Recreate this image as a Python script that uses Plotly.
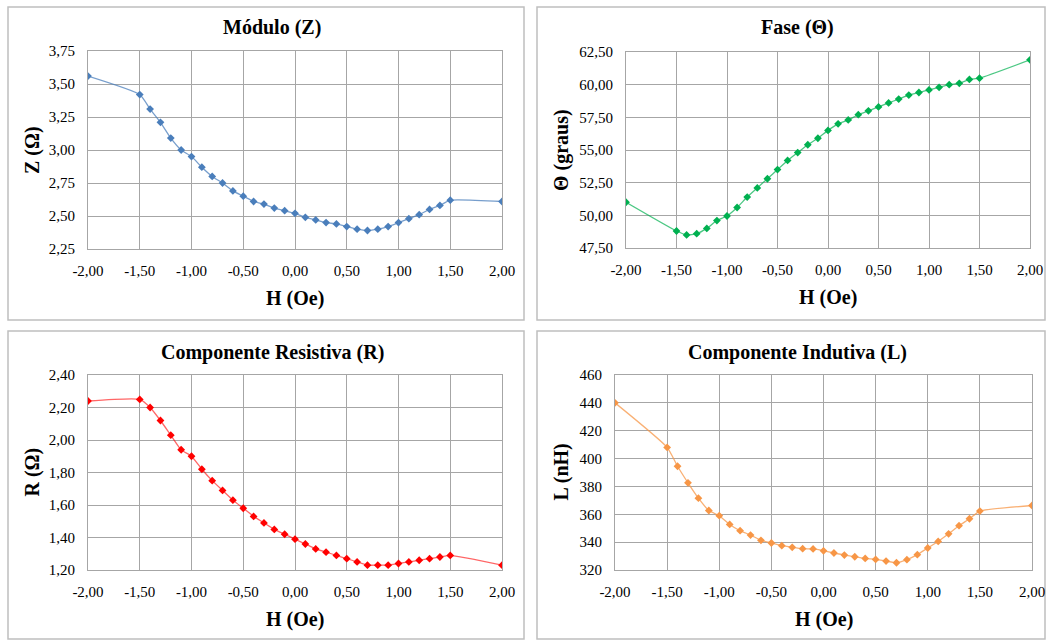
import plotly.graph_objects as go

# Campo magnético aplicado H (Oe)
H = [-2.0, -1.5, -1.4, -1.3, -1.2, -1.1, -1.0, -0.9, -0.8, -0.7, -0.6, -0.5,
     -0.4, -0.3, -0.2, -0.1, 0.0, 0.1, 0.2, 0.3, 0.4, 0.5, 0.6, 0.7, 0.8,
     0.9, 1.0, 1.1, 1.2, 1.3, 1.4, 1.5, 2.0]

# Módulo da impedância Z (Ω)
Z = [3.56, 3.42, 3.31, 3.21, 3.09, 3.00, 2.95, 2.87, 2.80, 2.75, 2.69, 2.65,
     2.61, 2.59, 2.56, 2.54, 2.52, 2.49, 2.47, 2.45, 2.44, 2.42, 2.40, 2.39,
     2.40, 2.42, 2.45, 2.48, 2.51, 2.55, 2.58, 2.62, 2.61]

# Fase Θ (graus)
THETA = [51.0, 48.8, 48.5, 48.6, 49.0, 49.6, 49.95, 50.6, 51.4, 52.1, 52.8,
         53.5, 54.2, 54.8, 55.4, 55.9, 56.5, 57.0, 57.3, 57.7, 58.0, 58.3,
         58.6, 58.9, 59.2, 59.4, 59.6, 59.8, 60.0, 60.1, 60.4, 60.5, 61.9]

# Componente resistiva R (Ω)
R = [2.24, 2.25, 2.20, 2.12, 2.03, 1.94, 1.90, 1.82, 1.75, 1.69, 1.63, 1.58,
     1.53, 1.49, 1.45, 1.42, 1.39, 1.36, 1.33, 1.31, 1.29, 1.27, 1.25, 1.23,
     1.23, 1.23, 1.24, 1.25, 1.26, 1.27, 1.28, 1.29, 1.23]

# Componente indutiva L (nH)
L = [440.0, 408.0, 394.5, 382.6, 371.6, 362.7, 359.0, 352.7, 348.2, 345.1,
     341.3, 339.4, 337.5, 336.3, 335.3, 335.1, 333.8, 332.2, 330.7, 329.5,
     328.3, 327.6, 326.4, 325.2, 327.4, 331.0, 335.8, 340.5, 346.0, 351.8,
     356.8, 362.3, 366.3]

# Marcas dos eixos
H_TICKS = [-2.0, -1.5, -1.0, -0.5, 0.0, 0.5, 1.0, 1.5, 2.0]
H_LABELS = ["-2,00", "-1,50", "-1,00", "-0,50", "0,00", "0,50", "1,00", "1,50", "2,00"]
Z_TICKS = [2.25, 2.50, 2.75, 3.00, 3.25, 3.50, 3.75]
Z_LABELS = ["2,25", "2,50", "2,75", "3,00", "3,25", "3,50", "3,75"]
THETA_TICKS = [47.5, 50.0, 52.5, 55.0, 57.5, 60.0, 62.5]
THETA_LABELS = ["47,50", "50,00", "52,50", "55,00", "57,50", "60,00", "62,50"]
R_TICKS = [1.2, 1.4, 1.6, 1.8, 2.0, 2.2, 2.4]
R_LABELS = ["1,20", "1,40", "1,60", "1,80", "2,00", "2,20", "2,40"]
L_TICKS = [320, 340, 360, 380, 400, 420, 440, 460]
L_LABELS = ["320", "340", "360", "380", "400", "420", "440", "460"]

TITLES = ["Módulo (Z)", "Fase (Θ)", "Componente Resistiva (R)", "Componente Indutiva (L)"]
YTITLES = ["Z (Ω)", "Θ (graus)", "R (Ω)", "L (nH)"]
XTITLE = "H (Oe)"

W, HGT = 1046, 640
FONT = "Liberation Serif"


def px(x):
    return x / W


def py(y):
    return 1 - y / HGT


panels = [
    # data, marker colour, line colour, plot box (x0, x1, ytop, ybottom), y axis, frame
    dict(y=Z, mc="#4a7ebb", lc="rgba(74,126,187,0.75)", box=(88, 502, 51, 249),
         tv=Z_TICKS, tt=Z_LABELS, frame=(8, 524, 7, 320)),
    dict(y=THETA, mc="#00b050", lc="rgba(0,176,80,0.7)", box=(626, 1030, 52, 248),
         tv=THETA_TICKS, tt=THETA_LABELS, frame=(537, 1045, 7, 320)),
    dict(y=R, mc="#ff0000", lc="rgba(255,0,0,0.6)", box=(88, 502, 375, 570),
         tv=R_TICKS, tt=R_LABELS, frame=(8, 524, 331, 639)),
    dict(y=L, mc="#f79646", lc="rgba(247,150,70,0.75)", box=(615, 1032, 375, 570),
         tv=L_TICKS, tt=L_LABELS, frame=(537, 1045, 331, 639)),
]

fig = go.Figure()
layout = dict(
    width=W, height=HGT, margin=dict(l=0, r=0, t=0, b=0, autoexpand=False),
    paper_bgcolor="white", plot_bgcolor="white", showlegend=False,
    font=dict(family=FONT, size=15, color="#000000"),
)
shapes, annotations = [], []

for i, p in enumerate(panels):
    n = "" if i == 0 else str(i + 1)
    x0, x1, yt, yb = p["box"]
    fig.add_trace(go.Scatter(
        x=H, y=p["y"], mode="lines+markers",
        line=dict(color=p["lc"], width=1.3, shape="spline", smoothing=0.5),
        marker=dict(symbol="diamond", size=6, color=p["mc"]),
        xaxis="x" + n, yaxis="y" + n,
    ))
    grid = dict(showgrid=True, gridcolor="#a6a6a6", gridwidth=1, zeroline=False,
                showline=True, linecolor="#a6a6a6", linewidth=1, mirror=True,
                automargin=False, ticks="outside", tickcolor="rgba(0,0,0,0)",
                tickfont=dict(family=FONT, size=15, color="#000000"))
    layout["xaxis" + n] = dict(
        grid, domain=[px(x0), px(x1)], anchor="y" + n, range=[-2, 2],
        tickmode="array", tickvals=H_TICKS, ticktext=H_LABELS, ticklen=8,
    )
    layout["yaxis" + n] = dict(
        grid, domain=[py(yb), py(yt)], anchor="x" + n,
        range=[p["tv"][0], p["tv"][-1]],
        tickmode="array", tickvals=p["tv"], ticktext=p["tt"], ticklen=9,
    )
    fx0, fx1, fy0, fy1 = p["frame"]
    shapes.append(dict(type="rect", xref="paper", yref="paper",
                       x0=px(fx0), x1=px(fx1), y0=py(fy1), y1=py(fy0),
                       line=dict(color="#bfbfbf", width=1.5), layer="below"))
    cx = (x0 + x1) / 2
    annotations.append(dict(text="<b>%s</b>" % TITLES[i], xref="paper", yref="paper",
                            x=px((fx0 + fx1) / 2 + 6), y=py(fy0 + 21), showarrow=False,
                            xanchor="center", yanchor="middle",
                            font=dict(family=FONT, size=20, color="#000000")))
    annotations.append(dict(text="<b>%s</b>" % XTITLE, xref="paper", yref="paper",
                            x=px(cx), y=py(yb + 49), showarrow=False,
                            xanchor="center", yanchor="middle",
                            font=dict(family=FONT, size=20, color="#000000")))
    annotations.append(dict(text="<b>%s</b>" % YTITLES[i], xref="paper", yref="paper",
                            x=px(fx0 + 24), y=py((yt + yb) / 2), showarrow=False,
                            textangle=-90, xanchor="center", yanchor="middle",
                            font=dict(family=FONT, size=20, color="#000000")))

layout["shapes"] = shapes
layout["annotations"] = annotations
fig.update_layout(**layout)
fig.write_html("out.html")
